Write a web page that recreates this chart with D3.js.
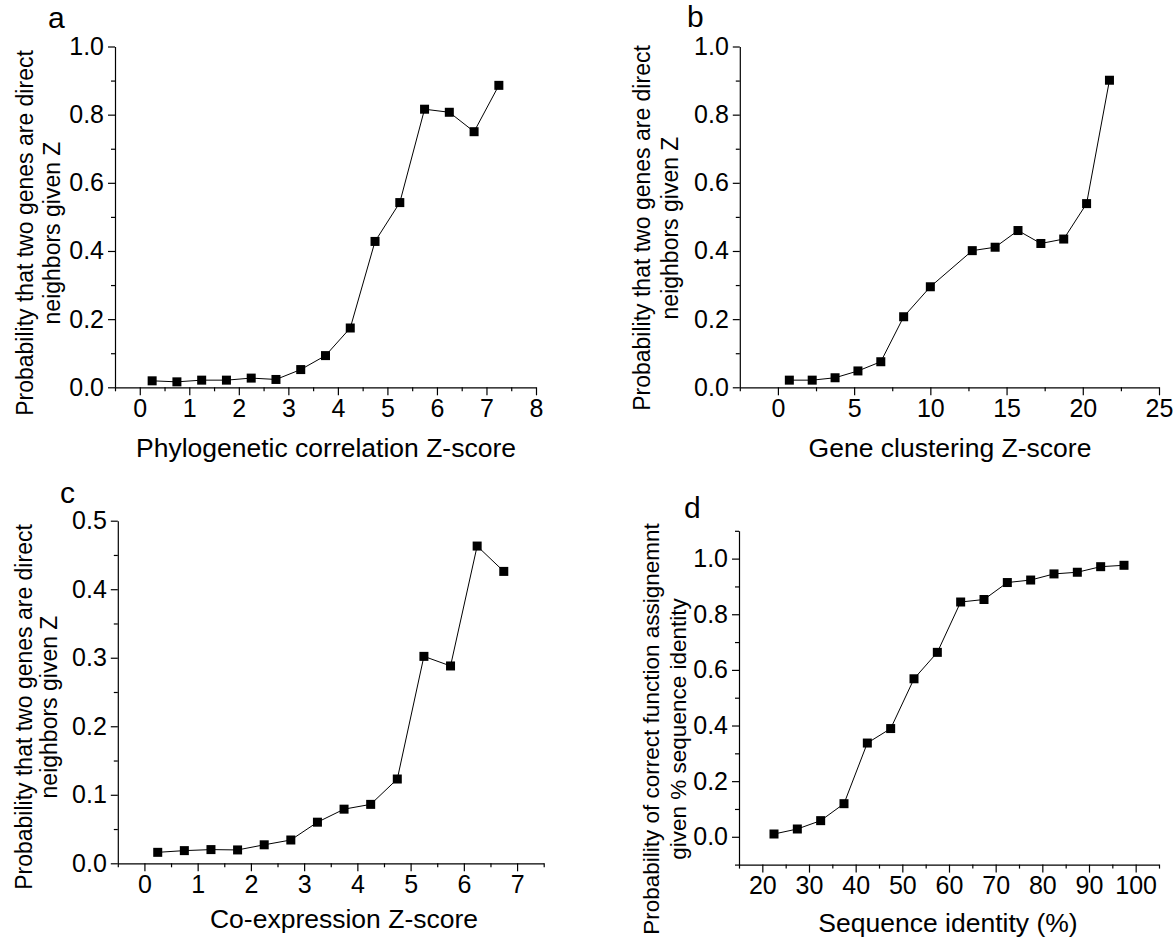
<!DOCTYPE html>
<html>
<head>
<meta charset="utf-8">
<script src="https://cdn.jsdelivr.net/npm/d3@7"></script>
<style>
  body { margin: 0; background: #fff; }
  svg { font-family: "Liberation Sans", Arial, sans-serif; }
  .axis path, .axis line { stroke: #000; stroke-width: 1.2; }
  .axis text { fill: #000; font-size: 25px; font-family: "Liberation Sans", Arial, sans-serif; }
</style>
</head>
<body>
<svg id="chart" width="1176" height="942"></svg>
<script>
// Panel a: phylogenetic correlation
const phyloZ = [0.25, 0.75, 1.25, 1.75, 2.25, 2.75, 3.25, 3.75, 4.25, 4.75, 5.25, 5.75, 6.25, 6.75, 7.25];
const phyloP = [0.019, 0.016, 0.021, 0.021, 0.027, 0.023, 0.052, 0.093, 0.174, 0.428, 0.542, 0.816, 0.807, 0.750, 0.886];

// Panel b: gene clustering
const clusterZ = [0.75, 2.25, 3.75, 5.25, 6.75, 8.25, 10.0, 12.75, 14.25, 15.75, 17.25, 18.75, 20.25, 21.75];
const clusterP = [0.021, 0.021, 0.028, 0.048, 0.075, 0.207, 0.295, 0.401, 0.411, 0.460, 0.422, 0.435, 0.539, 0.901];

// Panel c: co-expression
const coexpZ = [0.25, 0.75, 1.25, 1.75, 2.25, 2.75, 3.25, 3.75, 4.25, 4.75, 5.25, 5.75, 6.25, 6.75];
const coexpP = [0.016, 0.0185, 0.020, 0.0195, 0.027, 0.034, 0.060, 0.079, 0.086, 0.123, 0.302, 0.288, 0.463, 0.426];

// Panel d: sequence identity
const seqId = [22.5, 27.5, 32.5, 37.5, 42.5, 47.5, 52.5, 57.5, 62.5, 67.5, 72.5, 77.5, 82.5, 87.5, 92.5, 97.5];
const seqP = [0.010, 0.028, 0.058, 0.119, 0.337, 0.389, 0.568, 0.663, 0.844, 0.853, 0.914, 0.923, 0.945, 0.951, 0.971, 0.976];

// tick values
const ticksA = [0, 1, 2, 3, 4, 5, 6, 7, 8];
const ticksB = [0, 5, 10, 15, 20, 25];
const ticksC = [0, 1, 2, 3, 4, 5, 6, 7];
const ticksD = [20, 30, 40, 50, 60, 70, 80, 90, 100];
const yTicks1 = [0, 0.2, 0.4, 0.6, 0.8, 1.0];
const yTicksC = [0, 0.1, 0.2, 0.3, 0.4, 0.5];

const yTitleZ = ['Probability that two genes are direct', 'neighbors given Z'];
const yTitleSeq = ['Probability of correct function assignemnt', 'given % sequence identity'];

const svg = d3.select('#chart');

function range(a, b, step) {
    const out = [];
    for (let v = a; v <= b + 1e-9; v += step) out.push(+v.toFixed(4));
    return out;
}

function drawPanel(cfg) {
    const g = svg.append('g');
    const x = d3.scaleLinear().domain(cfg.xDomain).range([cfg.left, cfg.right]);
    const y = d3.scaleLinear().domain(cfg.yDomain).range([cfg.bottom, cfg.top]);

    // minor ticks
    g.append('g')
        .attr('class', 'axis')
        .attr('transform', `translate(0,${cfg.bottom})`)
        .call(d3.axisBottom(x).tickValues(cfg.xMinor).tickSize(4).tickFormat(''))
        .select('.domain').remove();
    g.append('g')
        .attr('class', 'axis')
        .attr('transform', `translate(${cfg.left},0)`)
        .call(d3.axisLeft(y).tickValues(cfg.yMinor).tickSize(4).tickFormat(''))
        .select('.domain').remove();

    // major axes
    g.append('g')
        .attr('class', 'axis')
        .attr('transform', `translate(0,${cfg.bottom})`)
        .call(d3.axisBottom(x).tickValues(cfg.xTicks).tickSize(8).tickSizeOuter(0).tickPadding(4).tickFormat(d3.format('d')));
    g.append('g')
        .attr('class', 'axis')
        .attr('transform', `translate(${cfg.left},0)`)
        .call(d3.axisLeft(y).tickValues(cfg.yTicks).tickSize(7).tickSizeOuter(0).tickPadding(4).tickFormat(d3.format('.1f')));

    // line + markers
    const pts = cfg.xs.map((v, i) => [v, cfg.ys[i]]);
    g.append('path')
        .datum(pts)
        .attr('fill', 'none')
        .attr('stroke', '#000')
        .attr('stroke-width', 1)
        .attr('d', d3.line().x(d => x(d[0])).y(d => y(d[1])));
    g.selectAll('.dot')
        .data(pts)
        .enter().append('rect')
        .attr('x', d => x(d[0]) - 4.5)
        .attr('y', d => y(d[1]) - 4.5)
        .attr('width', 9)
        .attr('height', 9)
        .attr('fill', '#000');

    // x title
    g.append('text')
        .attr('x', cfg.xTitleX)
        .attr('y', cfg.xTitleY)
        .attr('text-anchor', 'middle')
        .style('font-size', '26.5px')
        .text(cfg.xTitle);

    // y title (two lines)
    cfg.yTitle.forEach((t, i) => {
        g.append('text')
            .attr('transform', `translate(${cfg.yTitleX[i]},${cfg.yTitleMid}) rotate(-90)`)
            .attr('text-anchor', 'middle')
            .attr('dy', '0.3em')
            .style('font-size', cfg.yTitleSize)
            .text(t);
    });

    // panel letter
    g.append('text')
        .attr('x', cfg.letterX)
        .attr('y', cfg.letterY)
        .style('font-size', '30px')
        .text(cfg.letter);
}

drawPanel({
    letter: 'a', letterX: 48, letterY: 28,
    left: 115, right: 536, top: 46.5, bottom: 387.3,
    xDomain: [-0.5, 8], yDomain: [0, 1],
    xTicks: ticksA, xMinor: range(-0.5, 7.5, 1),
    yTicks: yTicks1, yMinor: range(0.1, 0.9, 0.2),
    xs: phyloZ, ys: phyloP,
    xTitle: 'Phylogenetic correlation Z-score', xTitleX: 326, xTitleY: 457,
    yTitle: yTitleZ, yTitleX: [26, 53], yTitleMid: 233, yTitleSize: '23px'
});

drawPanel({
    letter: 'b', letterX: 687, letterY: 27,
    left: 739.8, right: 1159, top: 46.5, bottom: 387.3,
    xDomain: [-2.5, 25], yDomain: [0, 1],
    xTicks: ticksB, xMinor: range(-2.5, 22.5, 5),
    yTicks: yTicks1, yMinor: range(0.1, 0.9, 0.2),
    xs: clusterZ, ys: clusterP,
    xTitle: 'Gene clustering Z-score', xTitleX: 950, xTitleY: 457,
    yTitle: yTitleZ, yTitleX: [643, 671], yTitleMid: 228, yTitleSize: '23px'
});

drawPanel({
    letter: 'c', letterX: 60, letterY: 503,
    left: 117.8, right: 543.7, top: 520.7, bottom: 863.3,
    xDomain: [-0.5, 7.5], yDomain: [0, 0.5],
    xTicks: ticksC, xMinor: range(-0.5, 7.5, 1),
    yTicks: yTicksC, yMinor: range(0.05, 0.45, 0.1),
    xs: coexpZ, ys: coexpP,
    xTitle: 'Co-expression Z-score', xTitleX: 344, xTitleY: 928,
    yTitle: yTitleZ, yTitleX: [25, 50], yTitleMid: 707, yTitleSize: '23px'
});

drawPanel({
    letter: 'd', letterX: 684, letterY: 518,
    left: 739, right: 1159, top: 530.8, bottom: 864.6,
    xDomain: [15, 105], yDomain: [-0.1, 1.1],
    xTicks: ticksD, xMinor: range(15, 105, 10),
    yTicks: yTicks1, yMinor: range(-0.1, 1.1, 0.2),
    xs: seqId, ys: seqP,
    xTitle: 'Sequence identity (%)', xTitleX: 948, xTitleY: 932,
    yTitle: yTitleSeq, yTitleX: [652, 679], yTitleMid: 729, yTitleSize: '22.5px'
});
</script>
</body>
</html>
